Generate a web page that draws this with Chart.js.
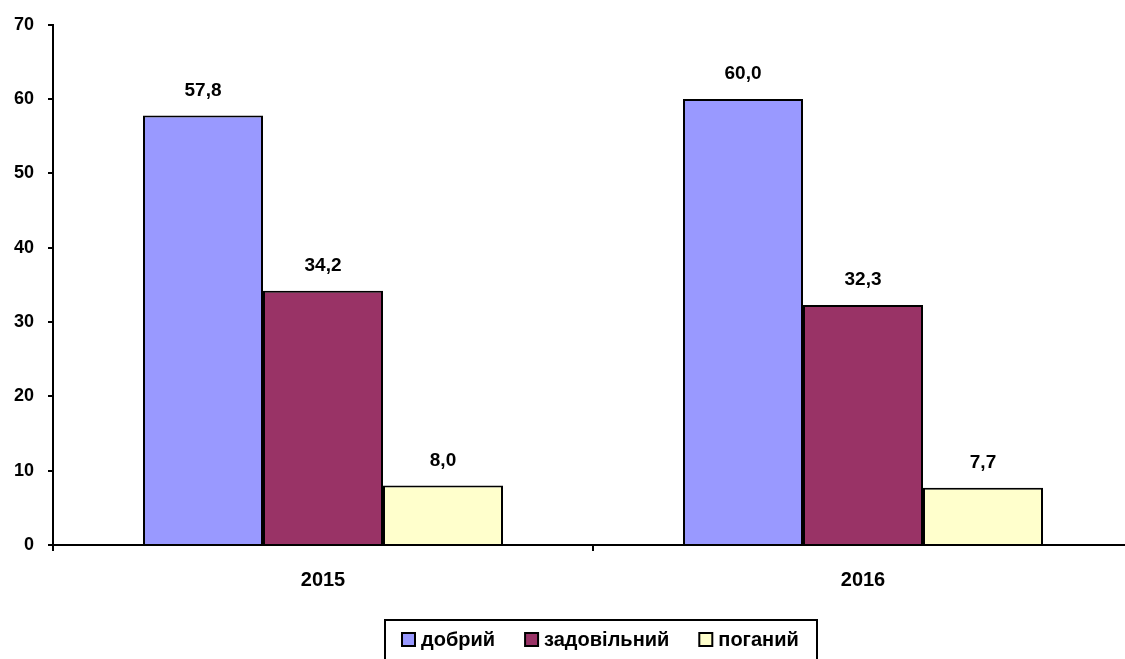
<!DOCTYPE html>
<html>
<head>
<meta charset="utf-8">
<script src="https://cdn.jsdelivr.net/npm/chart.js@4/dist/chart.umd.min.js"></script>
<style>
html,body{margin:0;padding:0;background:#fff;overflow:hidden;width:1125px;height:659px;}
#wrap{position:absolute;left:0;top:0;width:1140px;height:659px;}
</style>
</head>
<body>
<div id="wrap"><canvas id="c" width="1140" height="659"></canvas></div>
<script>
const categories = ['2015', '2016'];
const seriesNames = ['добрий', 'задовільний', 'поганий'];
const dobryi = [57.8, 60.0];
const zadovilnyi = [34.2, 32.3];
const poganyi = [8.0, 7.7];
const yTicks = [0, 10, 20, 30, 40, 50, 60, 70];
const colors = ['#9999FF', '#993366', '#FFFFCC'];

const FONT = '"Liberation Sans", Arial, sans-serif';

const valueLabels = {
  id: 'valueLabels',
  afterDatasetsDraw(chart) {
    const ctx = chart.ctx;
    ctx.save();
    ctx.font = 'bold 19px ' + FONT;
    ctx.fillStyle = '#000';
    ctx.textAlign = 'center';
    ctx.textBaseline = 'middle';
    chart.data.datasets.forEach((ds, i) => {
      chart.getDatasetMeta(i).data.forEach((bar, j) => {
        const txt = ds.data[j].toFixed(1).replace('.', ',');
        ctx.fillText(txt, bar.x, bar.y - 25);
      });
    });
    ctx.restore();
  }
};

const boxLegend = {
  id: 'boxLegend',
  afterDraw(chart) {
    const ctx = chart.ctx;
    ctx.save();
    const left = 385, right = 817, top = 620, bottom = 668;
    ctx.fillStyle = '#fff';
    ctx.fillRect(left, top, right - left, bottom - top);
    ctx.strokeStyle = '#000';
    ctx.lineWidth = 2;
    ctx.strokeRect(left, top, right - left, bottom - top);
    ctx.font = 'bold 20px ' + FONT;
    ctx.textBaseline = 'middle';
    ctx.textAlign = 'left';
    let x = 402;
    const cy = 640;
    chart.data.datasets.forEach((ds) => {
      ctx.fillStyle = ds.backgroundColor;
      ctx.fillRect(x, cy - 7, 13, 13);
      ctx.lineWidth = 2;
      ctx.strokeStyle = '#000';
      ctx.strokeRect(x, cy - 7, 13, 13);
      ctx.fillStyle = '#000';
      ctx.fillText(ds.label, x + 19, cy);
      x += 19 + ctx.measureText(ds.label).width + 30;
    });
    ctx.restore();
  }
};

new Chart(document.getElementById('c'), {
  type: 'bar',
  data: {
    labels: categories,
    datasets: [
      { label: seriesNames[0], data: dobryi, backgroundColor: colors[0] },
      { label: seriesNames[1], data: zadovilnyi, backgroundColor: colors[1] },
      { label: seriesNames[2], data: poganyi, backgroundColor: colors[2] }
    ].map(d => Object.assign(d, { borderColor: '#000', borderWidth: 2, borderSkipped: 'bottom', categoryPercentage: 360/540, barPercentage: 1.0 }))
  },
  options: {
    responsive: false,
    animation: false,
    devicePixelRatio: 1,
    layout: { padding: { top: 23, left: 0, right: 7, bottom: 0 } },
    plugins: { legend: { display: false }, tooltip: { enabled: false } },
    scales: {
      x: {
        grid: { display: true, offset: true, drawOnChartArea: false, drawTicks: true, tickLength: 6, color: '#000', lineWidth: 2 },
        border: { display: true, color: '#000', width: 2 },
        ticks: { color: '#000', font: { family: FONT, size: 20, weight: 'bold' }, padding: 17 },
        afterFit(scale) { scale.height = 114; }
      },
      y: {
        min: 0, max: 70,
        afterBuildTicks(scale) { scale.ticks = yTicks.map(v => ({ value: v })); },
        grid: { display: true, drawOnChartArea: false, drawTicks: true, tickLength: 5, color: '#000', lineWidth: 2 },
        border: { display: true, color: '#000', width: 2 },
        ticks: { color: '#000', font: { family: FONT, size: 18, weight: 'bold' }, padding: 14 },
        afterFit(scale) { scale.width = 53; }
      }
    }
  },
  plugins: [valueLabels, boxLegend]
});
</script>
</body>
</html>
